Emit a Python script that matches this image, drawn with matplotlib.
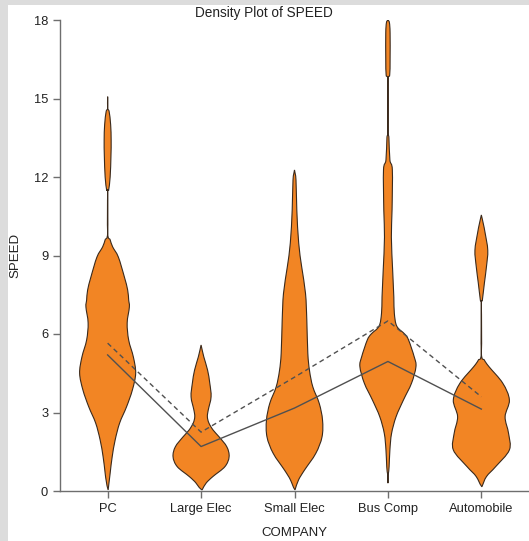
import numpy as np
import matplotlib
matplotlib.use("Agg")
import matplotlib.pyplot as plt
from matplotlib.patches import Rectangle, PathPatch
from matplotlib.path import Path

plt.rcParams['font.family'] = ['Liberation Sans', 'DejaVu Sans']

companies = ["PC", "Large Elec", "Small Elec", "Bus Comp", "Automobile"]

# Estimated density profiles of SPEED per company: (speed level, relative density)
pc_speed = [15.07, 14.63, 14.5, 14.0, 13.4, 12.8, 12.0, 11.5, 11.4, 9.86, 9.6, 9.33,
            8.94, 8.18, 7.68, 7.3, 7.03, 6.42, 5.77, 5.12, 4.5, 3.86, 3.21, 2.6,
            1.95, 1.3, 0.68, 0.04]
pc_dens = [0, 0, 1.5, 3.0, 3.5, 3.3, 2.5, 1.0, 0, 0, 2.5, 5.0,
           10.7, 16.7, 20, 21, 21.7, 19.5, 21, 25.7, 28, 24.7, 18.8, 12,
           7.5, 4.5, 2.5, 0.5]

large_speed = [5.58, 5.13, 4.62, 4.12, 3.6, 3.1, 2.84, 2.6, 2.33, 2.07, 1.69,
               1.31, 0.93, 0.55, 0.3, 0.04]
large_dens = [0, 2.7, 6.5, 8.7, 10, 7.2, 6.3, 7.8, 12, 18, 25.7,
              28, 23.8, 11.7, 5, 1]

small_speed = [12.27, 11.88, 10.74, 9.47, 8.56, 7.55, 6.53, 5.27, 4.6, 3.98,
               3.35, 2.71, 2.07, 1.44, 0.8, 0.42, 0.04]
small_dens = [0, 1.5, 2.3, 4.2, 7.2, 11, 12.3, 13.3, 15, 18.3,
              24.7, 28, 27.5, 21.3, 10, 4, 0.5]

bus_speed = [18.0, 17.9, 17.5, 16.5, 15.9, 15.64, 13.8, 13.5, 12.65, 12.27,
             10.74, 9.7, 8.44, 7.41, 6.8, 6.3, 6.0, 5.77, 5.13, 4.75, 4.12,
             3.48, 2.84, 2.2, 1.57, 0.93, 0.68, 0.6, 0.3]
bus_dens = [0, 1.5, 2.2, 2.2, 1.8, 0, 0, 1.0, 2.0, 4.5,
            4.2, 3.5, 4.8, 6.0, 6.5, 9, 17, 21, 26.7, 28.5, 24,
            15.8, 8.3, 3.7, 2.0, 1.2, 0.5, 0, 0]

auto_speed = [10.55, 10.2, 9.86, 9.2, 8.57, 7.95, 7.3, 7.1, 5.27, 5.0, 4.75,
              4.12, 3.48, 2.84, 2.2, 1.57, 0.93, 0.55, 0.16]
auto_dens = [0, 2.0, 3.7, 6.3, 5.0, 3.0, 1.0, 0, 0, 3.0, 7.5,
             21, 27.5, 23.3, 26.7, 27.5, 14, 5, 0.5]

speed_levels = [pc_speed, large_speed, small_speed, bus_speed, auto_speed]
densities = [pc_dens, large_dens, small_dens, bus_dens, auto_dens]

median_speed = [5.2, 1.7, 3.17, 4.95, 3.13]
mean_speed = [5.65, 2.25, 4.35, 6.5, 3.6]


def smooth_side(xs, ys):
    """Bezier path pieces (Catmull-Rom style) through an outline's points."""
    pts = np.column_stack([xs, ys])
    n = len(pts)
    tang = np.zeros_like(pts)
    tang[0] = pts[1] - pts[0]
    tang[-1] = pts[-1] - pts[-2]
    tang[1:-1] = (pts[2:] - pts[:-2]) / 2.0
    verts, codes = [], []
    for i in range(n - 1):
        p0, p1 = pts[i], pts[i + 1]
        c0 = p0 + tang[i] / 3.0
        c1 = p1 - tang[i + 1] / 3.0
        verts += [c0, c1, p1]
        codes += [Path.CURVE4] * 3
    return verts, codes


def violin_path(x, ys, ds, half_width):
    ys = np.asarray(ys, dtype=float)
    ds = np.asarray(ds, dtype=float)
    w = ds / ds.max() * half_width
    rv, rc = smooth_side(x + w, ys)
    lv, lc = smooth_side((x - w)[::-1], ys[::-1])
    verts = [(x + w[0], ys[0])] + rv + lv + [(x, ys[0])]
    codes = [Path.MOVETO] + rc + lc + [Path.CLOSEPOLY]
    return Path(verts, codes)


fig = plt.figure(figsize=(5.29, 5.41), dpi=100)
# light grey frame strips along the left and top edges
fig.patches.append(Rectangle((0, 0), 8 / 529, 1, transform=fig.transFigure,
                             facecolor="#dcdcdc", edgecolor="none", zorder=0))
fig.patches.append(Rectangle((0, 1 - 5 / 541), 1, 5 / 541, transform=fig.transFigure,
                             facecolor="#dcdcdc", edgecolor="none", zorder=0))

ax = fig.add_axes([60 / 529, 1 - 491 / 541, 1 - 60 / 529, (491 - 20) / 541])

half_width = 0.3
x_pos = np.arange(len(companies))
for x, ys, ds in zip(x_pos, speed_levels, densities):
    ax.add_patch(PathPatch(violin_path(x, ys, ds, half_width),
                           facecolor="#f28524", edgecolor="#3b2a1c",
                           linewidth=0.8, zorder=2))

ax.plot(x_pos, median_speed, color="#505050", linewidth=1.0, zorder=3)
ax.plot(x_pos, mean_speed, color="#505050", linewidth=1.0,
        linestyle=(0, (3.5, 2.5)), zorder=3)

ax.set_xlim(-0.51, 4.51)
ax.set_ylim(0, 18)
ax.set_yticks([0, 3, 6, 9, 12, 15, 18])
ax.set_xticks(x_pos)
ax.set_xticklabels(companies)

for side in ("top", "right"):
    ax.spines[side].set_visible(False)
for side in ("left", "bottom"):
    ax.spines[side].set_color("#6e6e6e")
    ax.spines[side].set_linewidth(1.0)
ax.tick_params(axis="both", colors="#6e6e6e", length=5, width=1.0,
               labelsize=9.3, labelcolor="#222222")

fig.text(264 / 529, 1 - 13 / 541, "Density Plot of SPEED", ha="center", va="center",
         fontsize=9.8, color="#222222")
fig.text(15 / 529, 1 - 255 / 541, "SPEED", rotation=90, ha="center", va="center",
         fontsize=9.5, color="#222222")
fig.text(294 / 529, 1 - 533 / 541, "COMPANY", ha="center", va="center",
         fontsize=9.5, color="#222222")

fig.savefig("out.png", dpi=100)
